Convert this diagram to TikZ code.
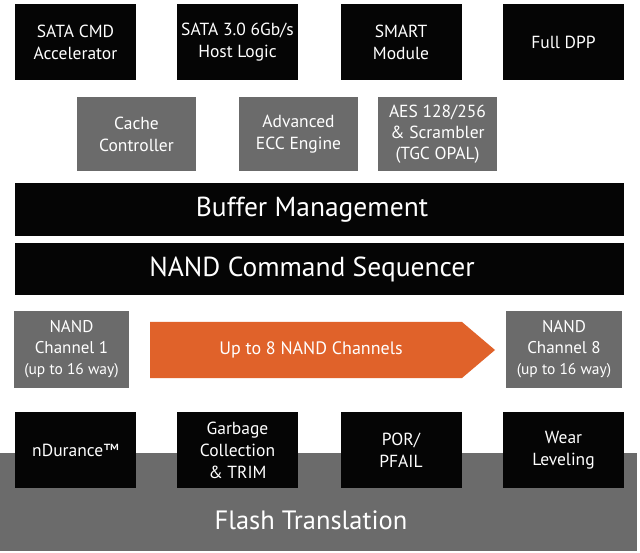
\documentclass[tikz,border=0pt]{standalone}
\usepackage{fontspec}
\setmainfont{PT Sans}
\definecolor{boxblack}{HTML}{050505}
\definecolor{boxgray}{HTML}{6B6B6B}
\definecolor{arroworange}{HTML}{E0622A}
\begin{document}
\begin{tikzpicture}[x=1pt,y=-1pt,
  base/.style={inner sep=0pt,text=white,align=center,font=\fontsize{17.5}{22}\selectfont},
  blk/.style={base,fill=boxblack,minimum width=121pt,minimum height=76pt},
  gry/.style={base,fill=boxgray,minimum width=119pt,minimum height=74pt},
  chan/.style={base,fill=boxgray,minimum height=77pt,font=\fontsize{17}{21}\selectfont},
  bar/.style={base,fill=boxblack,minimum width=609pt,font=\fontsize{27.5}{30}\selectfont}]
\useasboundingbox (0,0) rectangle (640,553);
\fill[white] (0,0) rectangle (640,553);
% row 1
\node[blk] (sata) at (75.5,42) {SATA CMD\\Accelerator};
\node[blk] (host) at (237.5,42) {SATA 3.0 6Gb/s\\Host Logic};
\node[blk] (smart) at (401,42) {SMART\\Module};
\node[blk] (dpp) at (563.5,42) {Full DPP};
% row 2
\node[gry] (cache) at (136.5,134) {Cache\\Controller};
\node[gry] (ecc) at (298.5,134) {Advanced\\ECC Engine};
\node[gry,font=\fontsize{17.5}{21}\selectfont] (aes) at (437.5,134) {AES 128/256\\\&~Scrambler\\(TGC OPAL)};
% bars
\node[bar,minimum height=53pt] (buf) at (319.5,209.5) {\hspace*{-15pt}Buffer Management};
\node[bar,minimum height=52pt] (ncs) at (319.5,269) {\hspace*{-15pt}NAND Command Sequencer};
% channels
\node[chan,minimum width=115pt] (ch1) at (71.5,349.5) {NAND\\Channel 1\\{\fontsize{15.5}{21}\selectfont(up to 16 way)}};
\node[chan,minimum width=116pt] (ch8) at (564,349.5) {NAND\\Channel 8\\{\fontsize{15.5}{21}\selectfont(up to 16 way)}};
\fill[arroworange] (150,322) -- (462,322) -- (495,350) -- (462,378) -- (150,378) -- cycle;
\node[base,font=\fontsize{18}{22}\selectfont] (up) at (311,350) {Up to 8 NAND Channels};
% flash translation
\fill[boxgray] (0,453) rectangle (637,551);
\node[base,font=\fontsize{26.5}{30}\selectfont] (flash) at (311,520) {Flash Translation};
% bottom row
\node[blk] (ndur) at (75.5,450) {nDurance™};
\node[blk] (gc) at (237.5,450) {Garbage\\Collection\\\&~TRIM};
\node[blk] (por) at (401,450) {POR/\\PFAIL};
\node[blk] (wear) at (563.5,450) {Wear\\Leveling};
\end{tikzpicture}
\end{document}
